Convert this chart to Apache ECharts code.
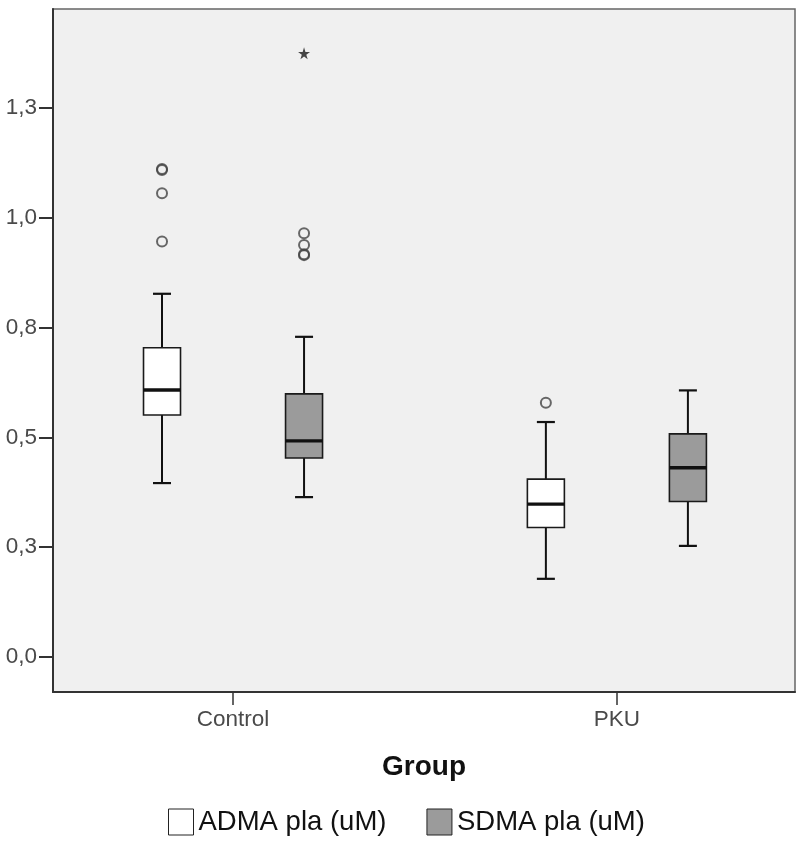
<!DOCTYPE html>
<html>
<head>
<meta charset="utf-8">
<script src="https://cdn.jsdelivr.net/npm/echarts@6/dist/echarts.min.js"></script>
<style>
  html, body { margin: 0; padding: 0; background: #fff; }
  #chart { width: 800px; height: 845px; }
</style>
</head>
<body>
<div id="chart"></div>
<script>
// 分组与数据
const groups = ['Control', 'PKU']
const seriesNames = ['ADMA pla (uM)', 'SDMA pla (uM)']
// [min, Q1, median, Q3, max]
const admaBox = [
  [0.396, 0.551, 0.608, 0.704, 0.827],
  [0.178, 0.295, 0.348, 0.405, 0.535]
]
const sdmaBox = [
  [0.364, 0.453, 0.492, 0.599, 0.729],
  [0.253, 0.354, 0.431, 0.508, 0.607]
]
// [groupIndex, value]
const admaOutliers = [[0, 1.109], [0, 1.111], [0, 1.056], [0, 0.946], [1, 0.579]]
const sdmaOutliers = [[0, 0.965], [0, 0.938], [0, 0.915], [0, 0.917]]
const sdmaExtremes = [[0, 1.3745]]
const yTicks = [0, 0.25, 0.5, 0.75, 1.0, 1.25]

const BOX_OFFSET = 0.185 // 组内偏移（以组间距为单位）
const BOX_W = 37
const CAP_W = 18
const FONT = "'Liberation Sans', Arial, sans-serif"
const fills = ['#ffffff', '#9b9b9b']

const chart = echarts.init(document.getElementById('chart'))

// 箱线图绘制
const renderBox = (params, api) => {
  const x = api.value(0)
  const lo = api.coord([x, api.value(1)])
  const q1 = api.coord([x, api.value(2)])
  const med = api.coord([x, api.value(3)])
  const q3 = api.coord([x, api.value(4)])
  const hi = api.coord([x, api.value(5)])
  const cx = lo[0]
  const line = (x1, y1, x2, y2, w) => ({
    type: 'line',
    shape: { x1, y1, x2, y2 },
    style: { stroke: '#111', lineWidth: w }
  })
  return {
    type: 'group',
    children: [
      line(cx, hi[1], cx, q3[1], 2),
      line(cx, q1[1], cx, lo[1], 2),
      line(cx - CAP_W / 2, hi[1], cx + CAP_W / 2, hi[1], 2.2),
      line(cx - CAP_W / 2, lo[1], cx + CAP_W / 2, lo[1], 2.2),
      {
        type: 'rect',
        shape: { x: cx - BOX_W / 2, y: q3[1], width: BOX_W, height: q1[1] - q3[1] },
        style: { fill: fills[params.seriesIndex], stroke: '#1a1a1a', lineWidth: 1.6 }
      },
      line(cx - BOX_W / 2, med[1], cx + BOX_W / 2, med[1], 3.4)
    ]
  }
}

const boxData = (boxes, sign) => boxes.map((b, i) => [i + sign * BOX_OFFSET, ...b])
const pointData = (pts, sign) => pts.map(([g, v]) => [g + sign * BOX_OFFSET, v])

const starPath = 'path://M50,0 L61,35 L98,35 L68,57 L79,91 L50,70 L21,91 L32,57 L2,35 L39,35 Z'

const option = {
  animation: false,
  textStyle: { fontFamily: FONT },
  grid: {
    left: 53, right: 5, top: 9, bottom: 153,
    show: true,
    backgroundColor: '#f0f0f0',
    borderColor: '#666',
    borderWidth: 1.5
  },
  legend: {
    left: 168,
    top: 808,
    padding: 0,
    itemWidth: 25,
    itemHeight: 26,
    itemGap: 40,
    textStyle: { fontSize: 27.5, color: '#111', fontFamily: FONT },
    data: [
      { name: seriesNames[0], icon: 'rect', itemStyle: { color: fills[0], borderColor: '#222', borderWidth: 1 } },
      { name: seriesNames[1], icon: 'rect', itemStyle: { color: fills[1], borderColor: '#222', borderWidth: 1 } }
    ]
  },
  xAxis: {
    type: 'value',
    min: -0.469,
    max: 1.464,
    name: 'Group',
    nameLocation: 'middle',
    nameGap: 61,
    nameTextStyle: { fontSize: 28, fontWeight: 'bold', color: '#111', fontFamily: FONT },
    axisLine: { show: true, onZero: false, lineStyle: { color: '#333', width: 2 } },
    axisTick: { show: true, customValues: [0, 1], length: 13, lineStyle: { color: '#333', width: 1.5 } },
    axisLabel: {
      customValues: [0, 1],
      formatter: v => groups[Math.round(v)],
      fontSize: 22.5,
      color: '#4a4a4a',
      margin: 16
    },
    splitLine: { show: false }
  },
  yAxis: {
    type: 'value',
    min: -0.0797,
    max: 1.4754,
    axisLine: { show: true, onZero: false, lineStyle: { color: '#333', width: 2 } },
    axisTick: { show: true, customValues: yTicks, length: 14, lineStyle: { color: '#333', width: 2 } },
    axisLabel: {
      customValues: yTicks,
      formatter: v => (Math.round(v * 10) / 10).toFixed(1).replace('.', ','),
      fontSize: 22.5,
      color: '#4a4a4a',
      margin: 16,
      padding: [9, 0, 0, 0]
    },
    splitLine: { show: false }
  },
  series: [
    {
      name: seriesNames[0],
      type: 'custom',
      renderItem: renderBox,
      itemStyle: { color: fills[0], borderColor: '#222' },
      encode: { x: 0, y: [1, 2, 3, 4, 5] },
      data: boxData(admaBox, -1)
    },
    {
      name: seriesNames[1],
      type: 'custom',
      renderItem: renderBox,
      itemStyle: { color: fills[1], borderColor: '#222' },
      encode: { x: 0, y: [1, 2, 3, 4, 5] },
      data: boxData(sdmaBox, 1)
    },
    {
      name: 'ADMA outliers',
      type: 'scatter',
      symbol: 'circle',
      symbolSize: 10,
      itemStyle: { color: 'rgba(0,0,0,0)', borderColor: '#444', borderWidth: 2 },
      data: pointData(admaOutliers, -1)
    },
    {
      name: 'SDMA outliers',
      type: 'scatter',
      symbol: 'circle',
      symbolSize: 10,
      itemStyle: { color: 'rgba(0,0,0,0)', borderColor: '#444', borderWidth: 2 },
      data: pointData(sdmaOutliers, 1)
    },
    {
      name: 'SDMA extremes',
      type: 'scatter',
      symbol: starPath,
      symbolSize: 12,
      itemStyle: { color: '#1a1a1a' },
      data: pointData(sdmaExtremes, 1)
    }
  ]
}

chart.setOption(option)
</script>
</body>
</html>
